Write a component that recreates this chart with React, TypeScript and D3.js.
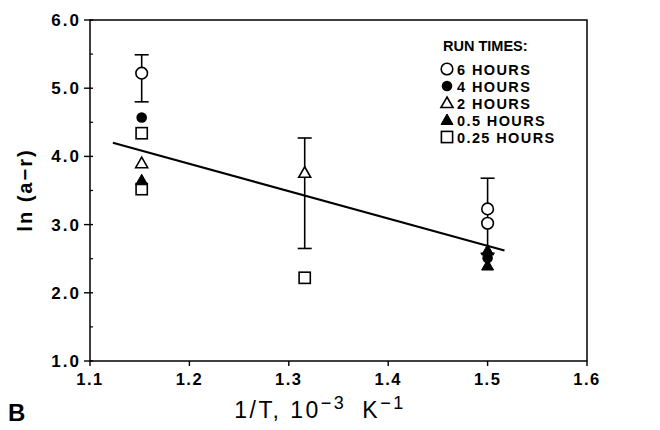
import React from "react";
import * as d3 from "d3";

const W = 660;
const H = 430;

const xTicks = [1.1, 1.2, 1.3, 1.4, 1.5, 1.6];
const yTicks = [1, 2, 3, 4, 5, 6];
const yMinor = [1.5, 2.5, 3.5, 4.5, 5.5];

// series (x = 1/T, y = ln(a-r))
const h6X = [1.152, 1.5, 1.5];
const h6Y = [5.22, 3.23, 3.02];
const h4X = [1.152, 1.5];
const h4Y = [4.57, 2.51];
const h2X = [1.152, 1.316];
const h2Y = [3.9, 3.76];
const h05X = [1.152, 1.5, 1.5];
const h05Y = [3.65, 2.62, 2.4];
const h025X = [1.152, 1.152, 1.316];
const h025Y = [4.34, 3.52, 2.22];

const errX = [1.152, 1.316, 1.5];
const errLo = [4.8, 2.65, 2.58];
const errHi = [5.49, 4.27, 3.68];

const fitX = [1.123, 1.517];
const fitY = [4.2, 2.62];

const legendLabels = ["6 HOURS", "4 HOURS", "2 HOURS", "0.5 HOURS", "0.25 HOURS"];
const legendKinds = ["circle", "dot", "tri", "ftri", "square"];

const FONT = "'Liberation Sans', Arial, Helvetica, sans-serif";

function Marker({ kind, cx, cy }: { kind: string; cx: number; cy: number }) {
  const sw = 1.6;
  if (kind === "circle")
    return <circle cx={cx} cy={cy} r={5.8} fill="white" stroke="#000" strokeWidth={sw} />;
  if (kind === "dot") return <circle cx={cx} cy={cy} r={5.3} fill="#000" />;
  if (kind === "square")
    return <rect x={cx - 5.6} y={cy - 5.6} width={11.2} height={11.2} fill="white" stroke="#000" strokeWidth={sw} />;
  const s = 6;
  const pts = `${cx},${cy - s} ${cx + s},${cy + s * 0.75} ${cx - s},${cy + s * 0.75}`;
  if (kind === "tri") return <polygon points={pts} fill="white" stroke="#000" strokeWidth={sw} />;
  return <polygon points={pts} fill="#000" stroke="#000" strokeWidth={1} />;
}

export default function App() {
  const x = d3.scaleLinear().domain([1.1, 1.6]).range([90, 587]);
  const y = d3.scaleLinear().domain([1, 6]).range([361, 20]);
  const line = d3
    .line<number>()
    .x((_, i) => x(fitX[i]))
    .y((d) => y(d));

  const series: { kind: string; xs: number[]; ys: number[] }[] = [
    { kind: "square", xs: h025X, ys: h025Y },
    { kind: "tri", xs: h2X, ys: h2Y },
    { kind: "circle", xs: h6X, ys: h6Y },
    { kind: "dot", xs: h4X, ys: h4Y },
    { kind: "ftri", xs: h05X, ys: h05Y },
  ];

  return (
    <svg width={W} height={H} style={{ position: "absolute", left: 0, top: 0, background: "white" }} fontFamily={FONT}>
      <rect width={W} height={H} fill="white" />
      {/* frame */}
      <rect x={x(1.1)} y={y(6)} width={x(1.6) - x(1.1)} height={y(1) - y(6)} fill="none" stroke="#000" strokeWidth={1.5} />
      {/* x ticks */}
      {xTicks.map((t) => (
        <g key={"xt" + t}>
          <line x1={x(t)} x2={x(t)} y1={y(1)} y2={y(1) + 5} stroke="#000" strokeWidth={1.4} />
          <text x={x(t)} y={y(1) + 24} textAnchor="middle" fontSize={16.5} fontWeight="bold" letterSpacing={1.5}>
            {t.toFixed(1)}
          </text>
        </g>
      ))}
      {/* y ticks */}
      {yTicks.map((t) => (
        <g key={"yt" + t}>
          <line x1={x(1.1) - 6} x2={x(1.1) + 3} y1={y(t)} y2={y(t)} stroke="#000" strokeWidth={1.4} />
          <text x={x(1.1) - 9} y={y(t) + 6} textAnchor="end" fontSize={17} fontWeight="bold" letterSpacing={2}>
            {t.toFixed(1)}
          </text>
        </g>
      ))}
      {yMinor.map((t) => (
        <line key={"ym" + t} x1={x(1.1)} x2={x(1.1) + 3} y1={y(t)} y2={y(t)} stroke="#000" strokeWidth={1.2} />
      ))}
      {/* fit line */}
      <path d={line(fitY) || ""} fill="none" stroke="#000" strokeWidth={2} />
      {/* error bars */}
      {errX.map((ex, i) => (
        <g key={"e" + i} stroke="#000" strokeWidth={1.6}>
          <line x1={x(ex)} x2={x(ex)} y1={y(errLo[i])} y2={y(errHi[i])} />
          <line x1={x(ex) - 7} x2={x(ex) + 7} y1={y(errLo[i])} y2={y(errLo[i])} />
          <line x1={x(ex) - 7} x2={x(ex) + 7} y1={y(errHi[i])} y2={y(errHi[i])} />
        </g>
      ))}
      {/* markers */}
      {series.map((s) =>
        s.xs.map((xv, i) => <Marker key={s.kind + i} kind={s.kind} cx={x(xv)} cy={y(s.ys[i])} />)
      )}
      {/* legend */}
      <text x={443} y={51} fontSize={14.5} fontWeight="bold">
        RUN TIMES:
      </text>
      {legendLabels.map((lab, i) => (
        <g key={"lg" + i}>
          <Marker kind={legendKinds[i]} cx={447} cy={69 + i * 17} />
          <text x={457} y={69 + i * 17 + 5.5} fontSize={14.5} fontWeight="bold" letterSpacing={1.4}>
            {lab}
          </text>
        </g>
      ))}
      {/* axis titles */}
      <text x={320} y={418} textAnchor="middle" fontSize={23} letterSpacing={2.5}>
        <tspan>1/T, 10</tspan>
        <tspan dy={-9} fontSize={18}>−3</tspan>
        <tspan dy={9} dx={16}>K</tspan>
        <tspan dy={-9} fontSize={18}>−1</tspan>
      </text>
      <text transform={`translate(32, 190) rotate(-90)`} textAnchor="middle" fontSize={20} fontWeight="bold" letterSpacing={2}>
        ln (a−r)
      </text>
      <text x={8} y={421} fontSize={24} fontWeight="bold">
        B
      </text>
    </svg>
  );
}
